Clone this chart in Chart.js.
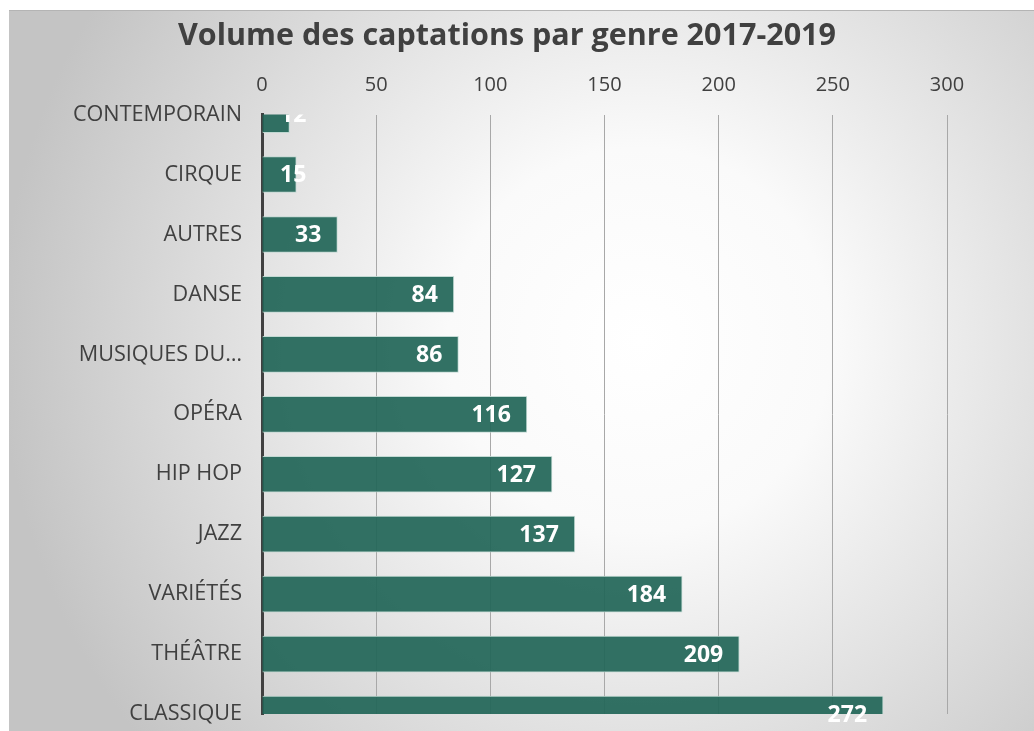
<!DOCTYPE html>
<html>
<head>
<meta charset="utf-8">
<script src="https://cdn.jsdelivr.net/npm/chart.js@4.4.0/dist/chart.umd.min.js"></script>
<style>
  html, body { margin: 0; padding: 0; background: #fff; }
  #wrap { width: 1034px; height: 731px; }
</style>
</head>
<body>
<div id="wrap"><canvas id="myChart" width="1034" height="731"></canvas></div>
<script>
// data
const genres = ["CONTEMPORAIN", "CIRQUE", "AUTRES", "DANSE", "MUSIQUES DU…", "OPÉRA", "HIP HOP", "JAZZ", "VARIÉTÉS", "THÉÂTRE", "CLASSIQUE"];
const volumes = [12, 15, 33, 84, 86, 116, 127, 137, 184, 209, 272];
const xTicks = [0, 50, 100, 150, 200, 250, 300];

const FONT = "'Open Sans', 'DejaVu Sans', sans-serif";

// grey radial backdrop behind everything
const bgPlugin = {
  id: 'bg',
  beforeDraw(chart) {
    const c = chart.ctx;
    c.save();
    c.fillStyle = '#fff';
    c.fillRect(0, 0, chart.width, chart.height);
    const g = c.createRadialGradient(640, 340, 0, 640, 340, 640);
    g.addColorStop(0, '#ffffff');
    g.addColorStop(0.3, '#fafafa');
    g.addColorStop(1, '#c4c4c4');
    c.fillStyle = g;
    c.fillRect(9, 10, chart.width - 9, 721);
    c.fillStyle = '#b4b4b4';
    c.fillRect(9, 10, chart.width - 9, 1);
    c.restore();
  }
};

// white value labels at inner end of bars
const labelPlugin = {
  id: 'vals',
  afterDatasetsDraw(chart) {
    const c = chart.ctx;
    const a = chart.chartArea;
    const meta = chart.getDatasetMeta(0);
    const base = chart.scales.x.getPixelForValue(0);
    c.save();
    c.beginPath();
    c.rect(a.left, a.top, a.right - a.left, a.bottom - a.top + 8);
    c.clip();
    c.font = "bold 23px " + FONT;
    c.fillStyle = '#fff';
    c.textBaseline = 'middle';
    c.textAlign = 'left';
    meta.data.forEach((bar, i) => {
      const txt = String(volumes[i]);
      const w = c.measureText(txt).width;
      const x = Math.max(bar.x - 16 - w, base + 18);
      c.fillText(txt, x, bar.y + 1);
    });
    c.restore();
  }
};

new Chart(document.getElementById('myChart'), {
  type: 'bar',
  data: {
    labels: genres,
    datasets: [{
      data: volumes,
      backgroundColor: 'rgba(34,102,88,0.93)',
      borderColor: 'rgba(190,215,208,0.9)',
      borderWidth: 1,
      barThickness: 36,
      clip: 0
    }]
  },
  options: {
    indexAxis: 'y',
    responsive: false,
    animation: false,
    layout: { padding: { top: 14, right: 87, bottom: 17, left: 67 } },
    plugins: {
      legend: { display: false },
      tooltip: { enabled: false },
      title: {
        display: true,
        text: 'Volume des captations par genre 2017-2019',
        color: '#404040',
        font: { family: FONT, size: 30.5, weight: 'bold' },
        padding: { top: 4, bottom: 2 }
      }
    },
    scales: {
      x: {
        position: 'top',
        min: 0,
        max: 300,
        afterBuildTicks(scale) { scale.ticks = xTicks.map(v => ({ value: v })); },
        ticks: { color: '#404040', font: { family: FONT, size: 20 }, padding: 17 },
        grid: { color: '#a8a8a8', lineWidth: 1, drawTicks: false },
        border: { display: false }
      },
      y: {
        offset: false,
        afterFit(scale) {
          scale.width = 195;
          scale.paddingTop = 0;
          scale.paddingBottom = 0;
        },
        ticks: { color: '#404040', font: { family: FONT, size: 21.6 }, padding: 20, autoSkip: false },
        grid: { display: false, drawTicks: false },
        border: { display: true, color: '#404040', width: 3 }
      }
    }
  },
  plugins: [bgPlugin, labelPlugin]
});
</script>
</body>
</html>
